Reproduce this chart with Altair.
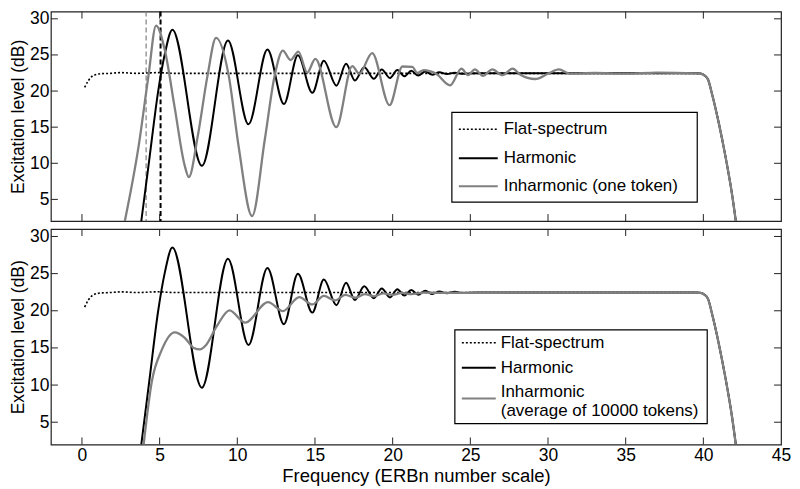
import altair as alt
import pandas as pd

FONT = "Arial"
GRAY = "#808080"

# ---- data (x: ERBn number, y: dB) ----
tail_x = [39.5, 39.8, 40.05, 40.3, 40.57, 41.0, 41.41, 41.84, 42.09]
tail_y = [22.45, 22.42, 22.2, 21.6, 19.5, 15.5, 11.1, 5.8, 2.0]

flat_x = [0.17, 0.4, 0.7, 1.22, 1.8, 2.5, 3.5, 4.9, 6.0, 20.0, 30.0]
flat_y = [20.5, 21.4, 22.1, 22.4, 22.45, 22.55, 22.45, 22.55, 22.45, 22.45, 22.45]

harm_x = [3.82, 4.35, 4.9, 5.34, 5.82, 7.72, 9.4, 10.72, 11.94, 13.0, 13.9, 14.83,
          15.57, 16.38, 17.0, 17.57, 18.17, 18.79, 19.3, 19.83, 20.3, 20.75, 21.2,
          21.65, 22.1, 22.55, 23.0, 23.5, 24.0, 24.5, 25.5, 30.0]
harm_y = [2.0, 10.8, 19.9, 25.2, 28.5, 9.65, 27.0, 15.4, 25.75, 18.2, 24.97, 19.75,
          24.2, 20.75, 23.77, 21.45, 23.3, 21.7, 23.0, 21.8, 22.9, 22.05, 22.8,
          22.15, 22.7, 22.25, 22.6, 22.35, 22.55, 22.4, 22.47, 22.45]

inh1_x = [2.76, 3.65, 4.28, 4.77, 5.34, 5.97, 6.6, 6.88, 7.45, 8.08, 8.63, 9.45,
          10.08, 10.95, 11.77, 12.4, 12.93, 13.42, 13.93, 14.5, 15.02, 16.37,
          17.4, 17.85, 18.68, 19.8, 20.63, 21.27, 21.58, 22.0, 22.8, 23.7, 24.43,
          24.85, 25.3, 25.8, 26.42, 27.07, 27.72, 28.2, 29.18, 30.0, 30.7, 31.4,
          33.0, 35.0, 37.0]
inh1_y = [2.0, 12.4, 22.1, 29.07, 25.6, 17.7, 9.8, 8.1, 13.7, 22.1, 27.35, 22.1,
          12.4, 2.7, 13.3, 22.1, 25.6, 24.3, 25.45, 22.55, 24.45, 15.0,
          23.45, 22.4, 25.25, 18.05, 23.4, 23.35, 22.5, 22.9, 22.4, 20.8, 23.1,
          22.2, 23.0, 22.1, 23.0, 22.2, 23.1, 22.3, 21.67, 22.4, 23.0, 22.4,
          22.5, 22.4, 22.55]

inh2_x = [3.97, 4.49, 5.13, 5.97, 6.6, 7.2, 7.6, 7.95, 8.7, 9.5, 10.5, 11.98,
          12.93, 13.99, 14.83, 15.57, 16.3, 16.94, 17.6, 18.2, 18.8, 19.4, 20.0,
          20.6, 21.2, 22.0, 23.0, 30.0]
inh2_y = [2.0, 10.4, 14.7, 17.1, 16.4, 15.0, 14.8, 15.3, 18.0, 20.05, 18.4, 21.15,
          19.95, 21.84, 20.85, 22.0, 21.4, 22.15, 21.75, 22.25, 21.95, 22.35, 22.15,
          22.4, 22.25, 22.45, 22.4, 22.45]

marker_x = [4.13, 5.06]          # dashed vertical lines (gray, black)

x_ticks = [0, 5, 10, 15, 20, 25, 30, 35, 40, 45]
y_ticks = [5, 10, 15, 20, 25, 30]

legend_top = ["Flat-spectrum", "Harmonic", "Inharmonic (one token)"]
legend_bot = ["Flat-spectrum", "Harmonic", "Inharmonic", "(average of 10000 tokens)"]

W = 732
H1 = 210
H2 = 216
LEG_FS = 17


def df_xy(xs, ys):
    return pd.DataFrame({"x": list(xs) + tail_x, "y": list(ys) + tail_y})


XS = alt.Scale(domain=[-2, 45], nice=False, zero=False)
YS = alt.Scale(domain=[2, 31], nice=False, zero=False)

Y_AXIS = alt.Axis(title="Excitation level (dB)", values=y_ticks, tickSize=0,
                  domain=False, grid=False, labelFontSize=17.5, titleFontSize=17.5,
                  labelPadding=2, titlePadding=2, titleFontWeight="normal")
X_AXIS = alt.Axis(title="Frequency (ERBn number scale)", values=x_ticks, tickSize=0,
                  domain=False, grid=False, labelFontSize=17.5, titleFontSize=18.5,
                  labelPadding=2, titlePadding=3, titleFontWeight="normal",
                  labelFlush=False)


def one(label):
    return alt.Chart(pd.DataFrame({"label": [label]}))


def panel(height, inh_x, inh_y, show_x, legend_labels, legend_geom, markers):
    xaxis = X_AXIS if show_x else None

    def ex(field="x"):
        return alt.X(f"{field}:Q", scale=XS, axis=xaxis)

    def ey(field="y"):
        return alt.Y(f"{field}:Q", scale=YS, axis=Y_AXIS)

    layers = []
    if markers:
        mdf = pd.DataFrame({"x": marker_x, "s": ["gray", "black"]})
        layers.append(alt.Chart(mdf).transform_filter(alt.datum.s == "gray")
                      .mark_rule(color=GRAY, strokeWidth=1.2, strokeDash=[5, 3])
                      .encode(x=ex()))
        layers.append(alt.Chart(mdf).transform_filter(alt.datum.s == "black")
                      .mark_rule(color="black", strokeWidth=2, strokeDash=[5, 3])
                      .encode(x=ex()))

    layers.append(alt.Chart(df_xy(flat_x, flat_y))
                  .mark_line(color="black", strokeWidth=1.6, strokeDash=[2, 2],
                             interpolate="monotone", clip=True)
                  .encode(x=ex(), y=ey(), order="x:Q"))
    layers.append(alt.Chart(df_xy(harm_x, harm_y))
                  .mark_line(color="black", strokeWidth=2, interpolate="monotone", clip=True)
                  .encode(x=ex(), y=ey(), order="x:Q"))
    layers.append(alt.Chart(df_xy(inh_x, inh_y))
                  .mark_line(color=GRAY, strokeWidth=2.3, interpolate="monotone", clip=True)
                  .encode(x=ex(), y=ey(), order="x:Q"))

    # inward ticks on all four sides (MATLAB box style)
    xt = pd.DataFrame({"v": x_ticks[:-1]})
    yt = pd.DataFrame({"v": y_ticks})
    tick = dict(color="#222", strokeWidth=1)
    layers.append(alt.Chart(xt).mark_rule(**tick).encode(
        x=ex("v"), y=alt.value(height), y2=alt.value(height - 7)))
    layers.append(alt.Chart(xt).mark_rule(**tick).encode(
        x=ex("v"), y=alt.value(0), y2=alt.value(7)))
    layers.append(alt.Chart(yt).mark_rule(**tick).encode(
        y=ey("v"), x=alt.value(0), x2=alt.value(7)))
    layers.append(alt.Chart(yt).mark_rule(**tick).encode(
        y=ey("v"), x=alt.value(W - 7), x2=alt.value(W)))

    # legend box
    bx0, bx1, by0, by1, sx0, sx1, tx, rows, sym_rows = legend_geom
    layers.append(one("box").mark_rect(fill="white", stroke="black", strokeWidth=1.2)
                  .encode(x=alt.value(bx0), x2=alt.value(bx1),
                          y=alt.value(by0), y2=alt.value(by1)))
    styles = [dict(color="black", strokeWidth=1.6, strokeDash=[2, 2]),
              dict(color="black", strokeWidth=2),
              dict(color=GRAY, strokeWidth=2)]
    for st, sy in zip(styles, sym_rows):
        layers.append(one("s").mark_rule(**st).encode(
            x=alt.value(sx0), x2=alt.value(sx1), y=alt.value(sy)))
    for lab, ty in zip(legend_labels, rows):
        layers.append(one(lab).mark_text(align="left", baseline="middle", fontSize=LEG_FS,
                                         font=FONT, color="black")
                      .encode(x=alt.value(tx), y=alt.value(ty), text="label:N"))

    return alt.layer(*layers).properties(width=W, height=height)


top = panel(H1, inh1_x, inh1_y, False, legend_top,
            (402, 648, 101, 191, 409, 448, 454, [118, 147, 175], [118, 147, 175]),
            True)
bottom = panel(H2, inh2_x, inh2_y, True, legend_bot,
               (405, 658, 101, 195, 412, 446, 451, [114, 139, 163, 182], [114, 139, 170]),
               False)

chart = (alt.vconcat(top, bottom, spacing=3)
         .properties(padding={"left": 0, "top": 0, "right": 0, "bottom": 0})
         .configure_view(stroke="#222", strokeWidth=1.2)
         .configure_axis(labelFont=FONT, titleFont=FONT, labelColor="black",
                         titleColor="black"))

chart.save("out.html", embed_options={"renderer": "svg", "actions": False})
